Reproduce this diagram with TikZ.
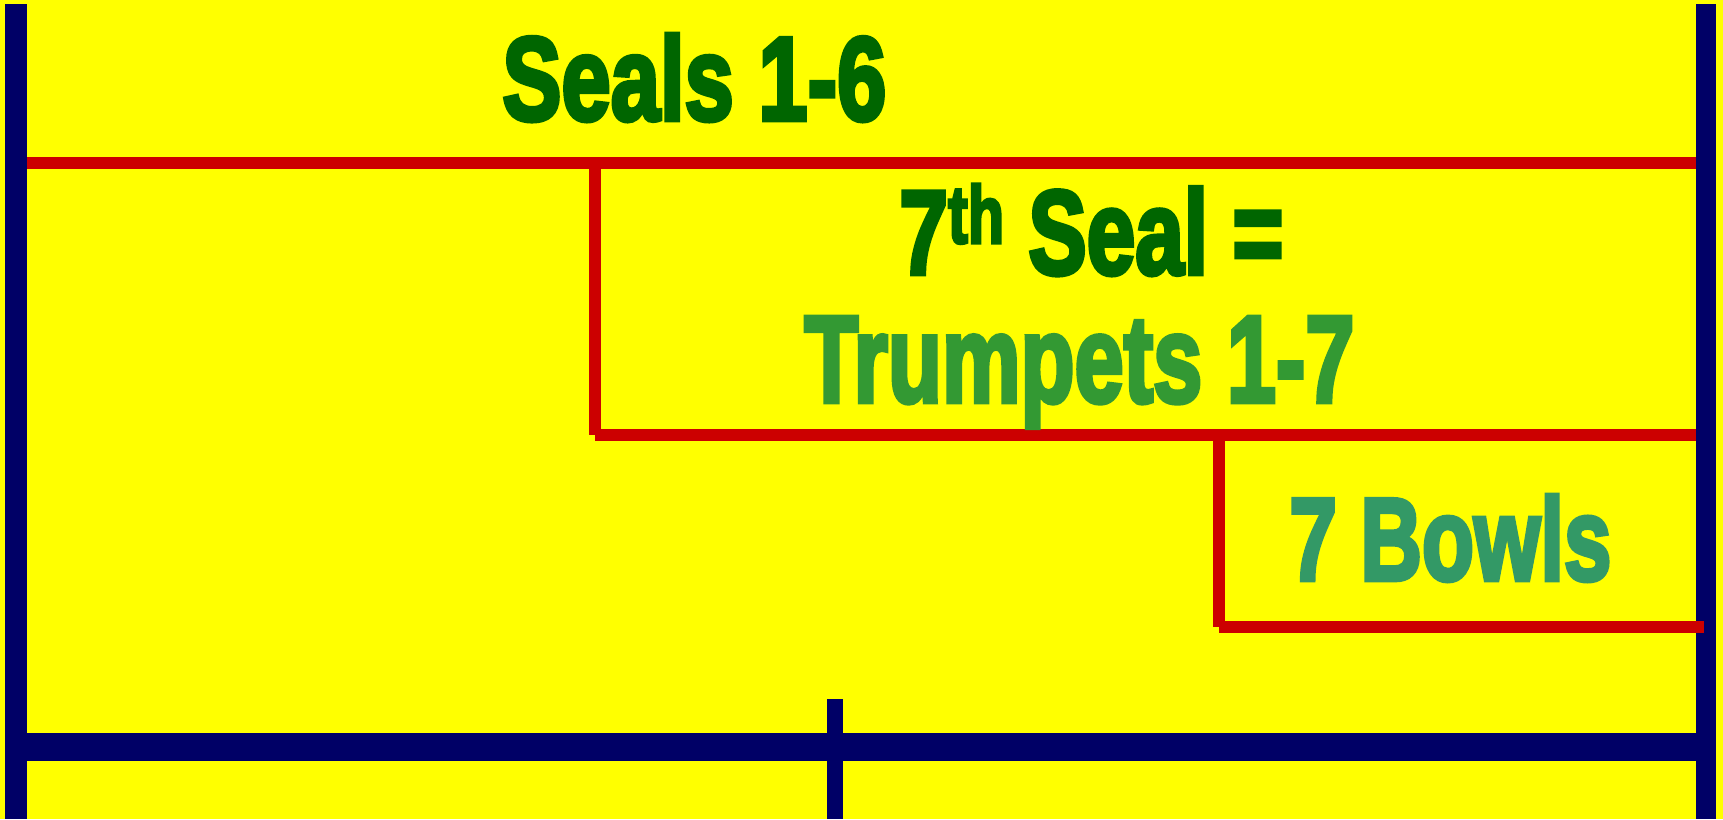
\documentclass[tikz,border=0pt]{standalone}
\usepackage{fontspec}
\usepackage{graphicx}
\newfontfamily\impact{Liberation Sans}[UprightFont={* Bold}, FakeBold=4]
\usetikzlibrary{calc}

\definecolor{bg}{HTML}{FFFF00}
\definecolor{navy}{HTML}{000066}
\definecolor{redln}{HTML}{CC0000}
\definecolor{sealgreen}{HTML}{006600}
\definecolor{trumpgreen}{HTML}{339933}
\definecolor{bowlgreen}{HTML}{339966}

\begin{document}
\begin{tikzpicture}[x=0.5pt, y=-0.5pt,
  navybar/.style={draw=navy, line width=#1},
  redline/.style={draw=redln, line width=6pt},
  title/.style={inner sep=0pt, anchor=base west, font=\impact}]

\fill [bg] (0, 0) rectangle (1723, 819);
\useasboundingbox (0, 0) rectangle (1723, 819);

% frame
\draw [navybar=11pt] (16, 4) -- (16, 819);
\draw [navybar=10pt] (1706, 4) -- (1706, 819);
\draw [navybar=14pt] (27, 747) -- (1696, 747);
\draw [navybar=8pt] (835, 699) -- (835, 819);

% steps
\draw [redline] (27, 163) -- (1696, 163);
\draw [redline] (595, 163) -- (595, 435);
\draw [redline] (595, 435) -- (1696, 435);
\draw [redline] (1219, 435) -- (1219, 627);
\draw [redline] (1219, 627) -- (1704, 627);

\node [title, text=sealgreen] (seals) at (502, 120) {\resizebox{192pt}{43pt}{Seals 1-6}};
\node [title, text=sealgreen] (seventh) at (899, 274) {\resizebox{192pt}{45pt}{7\raisebox{0.26em}{\scalebox{0.68}{th}} Seal =}};
\node [title, text=trumpgreen] (trumpets) at (804, 402) {\resizebox{275pt}{42.5pt}{Trumpets 1-7}};
\node [title, text=bowlgreen] (bowls) at (1289, 580) {\resizebox{161pt}{42.5pt}{7 Bowls}};

\end{tikzpicture}
\end{document}
